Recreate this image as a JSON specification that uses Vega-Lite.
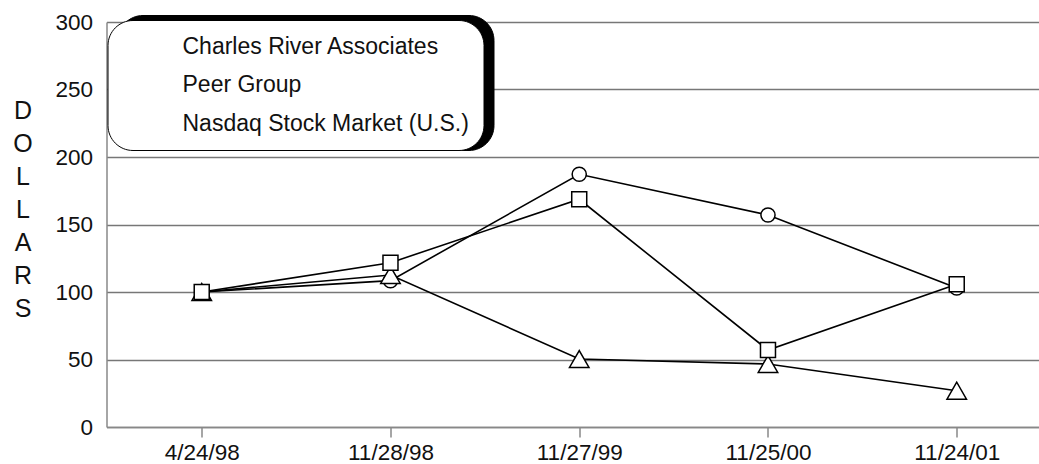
{
  "$schema": "https://vega.github.io/schema/vega-lite/v6.json",
  "width": 933,
  "height": 405,
  "autosize": {"type": "none"},
  "padding": {"left": 106.5, "top": 22, "right": 0, "bottom": 37},
  "background": "white",
  "config": {"font": "Liberation Sans", "view": {"stroke": null}},
  "data": {
    "values": [
      {"date": "4/24/98", "series": "Charles River Associates", "group": "Charles River Associates", "value": 100},
      {"date": "11/28/98", "series": "Charles River Associates", "group": "Charles River Associates", "value": 121.7},
      {"date": "11/27/99", "series": "Charles River Associates", "group": "Charles River Associates", "value": 168.7},
      {"date": "11/25/00", "series": "Charles River Associates", "group": "Charles River Associates", "value": 57},
      {"date": "11/24/01", "series": "Charles River Associates", "group": "Charles River Associates", "value": 105.7},
      {"date": "4/24/98", "series": "Peer Group", "group": "Peer Group", "value": 100},
      {"date": "11/28/98", "series": "Peer Group", "group": "Peer Group", "value": 112.6},
      {"date": "11/27/99", "series": "Peer Group", "group": "Peer Group", "value": 50.4},
      {"date": "11/25/00", "series": "Peer Group", "group": "Peer Group", "value": 46.7},
      {"date": "11/24/01", "series": "Peer Group", "group": "Peer Group", "value": 26.9},
      {"date": "4/24/98", "series": "Nasdaq Stock Market (U.S.)", "group": "Nasdaq Stock Market (U.S.)", "value": 100},
      {"date": "11/28/98", "series": "Nasdaq Stock Market (U.S.)", "group": "Nasdaq Stock Market (U.S.)", "value": 108.4},
      {"date": "11/27/99", "series": "Nasdaq Stock Market (U.S.)", "group": "Nasdaq Stock Market (U.S.)", "value": 187.2},
      {"date": "11/25/00", "series": "Nasdaq Stock Market (U.S.)", "group": "Nasdaq Stock Market (U.S.)", "value": 157},
      {"date": "11/24/01", "series": "Nasdaq Stock Market (U.S.)", "group": "Nasdaq Stock Market (U.S.)", "value": 103}
    ]
  },
  "encoding": {
    "x": {
      "field": "date",
      "type": "ordinal",
      "sort": ["4/24/98", "11/28/98", "11/27/99", "11/25/00", "11/24/01"],
      "scale": {"type": "point", "padding": 0.4715, "align": 0.535},
      "axis": {
        "title": null,
        "labelAngle": 0,
        "labelFont": "Liberation Sans",
        "labelFontSize": 22.5,
        "labelColor": "#111",
        "labelPadding": 4,
        "tickSize": 10,
        "tickColor": "#888",
        "tickWidth": 1.5,
        "domainColor": "#888",
        "domainWidth": 1.5,
        "grid": false
      }
    },
    "y": {
      "field": "value",
      "type": "quantitative",
      "scale": {"domain": [0, 300], "nice": false},
      "axis": {
        "title": ["D", "O", "L", "L", "A", "R", "S"],
        "titleAngle": 0,
        "titleFont": "Liberation Sans",
        "titleFontSize": 25,
        "titleFontWeight": "normal",
        "titleLineHeight": 33,
        "titleX": -84,
        "titleY": 88,
        "titleAlign": "center",
        "titleBaseline": "middle",
        "titleColor": "#111",
        "values": [0, 50, 100, 150, 200, 250, 300],
        "labelFont": "Liberation Sans",
        "labelFontSize": 22.5,
        "labelColor": "#111",
        "labelPadding": 14,
        "ticks": false,
        "tickSize": 0,
        "domainColor": "#888",
        "domainWidth": 1.5,
        "grid": true,
        "gridColor": "#777777",
        "gridWidth": 1.5,
        "gridOpacity": 1
      }
    }
  },
  "layer": [
    {
      "mark": {"type": "line", "color": "black", "strokeWidth": 1.6},
      "encoding": {"detail": {"field": "series", "type": "nominal"}}
    },
    {
      "transform": [{"filter": "datum.series === 'Nasdaq Stock Market (U.S.)'"}],
      "mark": {"type": "point", "shape": "circle", "filled": true, "fill": "white", "stroke": "black", "strokeWidth": 1.5, "opacity": 1, "size": 200},
      "encoding": {}
    },
    {
      "transform": [{"filter": "datum.series === 'Peer Group'"}],
      "mark": {"type": "point", "shape": "triangle-up", "filled": true, "fill": "white", "stroke": "black", "strokeWidth": 1.5, "opacity": 1, "size": 380},
      "encoding": {}
    },
    {
      "transform": [{"filter": "datum.series === 'Charles River Associates'"}],
      "mark": {"type": "point", "shape": "square", "filled": true, "fill": "white", "stroke": "black", "strokeWidth": 1.5, "opacity": 1, "size": 225},
      "encoding": {}
    },
    {
      "mark": {"type": "point", "filled": true, "fill": "white", "stroke": "black", "strokeWidth": 1.5, "opacity": 0, "size": 529},
      "encoding": {
        "shape": {
          "field": "series",
          "type": "nominal",
          "scale": {
            "domain": ["Charles River Associates", "Peer Group", "Nasdaq Stock Market (U.S.)"],
            "range": [
              "M-1.087,0H0.478M1.522,0H3.087M0.478,-0.522H1.522V0.522H0.478Z",
              "M-1.087,0H0.609M1.391,0H3.087M1,-0.609L1.783,0.609H0.217Z",
              "M-1.087,0H0.417M1.583,0H3.087M0.417,0A0.583,0.583,0,1,0,1.583,0A0.583,0.583,0,1,0,0.417,0Z"
            ]
          },
          "legend": {
            "title": null,
            "orient": "none",
            "legendX": 1,
            "legendY": -2,
            "zindex": 2,
            "fillColor": "white",
            "strokeColor": "black",
            "cornerRadius": 25,
            "padding": 14,
            "labelFont": "Liberation Sans",
            "labelFontSize": 23,
            "labelColor": "#111",
            "labelOffset": 36,
            "labelLimit": 500,
            "symbolSize": 529,
            "symbolOpacity": 1,
            "symbolStrokeColor": "black",
            "symbolFillColor": "white",
            "rowPadding": 13.5,
            "encode": {
              "legend": {"strokeWidth": {"value": 1.5}},
              "symbols": {
                "size": {"value": 529},
                "fill": {"value": "white"},
                "stroke": {"value": "black"},
                "strokeWidth": {"value": 1.5},
                "opacity": {"value": 1}
              }
            }
          }
        }
      }
    },
    {
      "mark": {"type": "point", "filled": true, "fill": "black", "stroke": "black", "opacity": 0, "size": 529},
      "encoding": {
        "fill": {
          "field": "group",
          "type": "nominal",
          "scale": {"range": ["black", "black", "black"]},
          "legend": {
            "title": null,
            "orient": "none",
            "legendX": 11,
            "legendY": -7,
            "zindex": 1,
            "fillColor": "black",
            "strokeColor": "black",
            "cornerRadius": 25,
            "padding": 14,
            "labelFont": "Liberation Sans",
            "labelFontSize": 1,
            "labelColor": "black",
            "labelOpacity": 0,
            "labelOffset": 322,
            "labelLimit": 500,
            "labelExpr": "'.'",
            "symbolSize": 529,
            "symbolOpacity": 0,
            "rowPadding": 17.5,
            "encode": {
              "legend": {"strokeWidth": {"value": 1.5}},
              "symbols": {
                "size": {"value": 529},
                "opacity": {"value": 0}
              }
            }
          }
        }
      }
    }
  ]
}
